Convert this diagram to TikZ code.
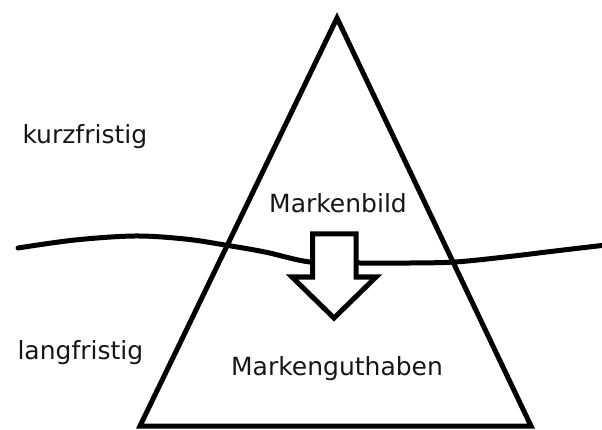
\documentclass[tikz,border=0pt]{standalone}
\usepackage{fontspec}
\setmainfont{DejaVu Sans}
\definecolor{txtgray}{HTML}{161616}
\begin{document}
\begin{tikzpicture}[x=1pt,y=-1pt,line width=5pt,
  lbl/.style={font=\fontsize{25}{30}\selectfont,text=txtgray,inner sep=0pt},
  heavy/.style={draw=black,line width=5pt}]
\useasboundingbox (0,0) rectangle (602,430);
% wavy boundary line
\draw[heavy,line cap=round] plot[smooth,tension=0.55] coordinates
  {(18,248) (75,240) (135,236) (185,239) (225,245) (265,252) (310,262)
   (360,263) (410,263) (455,262) (505,257) (555,251) (606,245)};
% triangle
\coordinate (apex) at (337,18);
\coordinate (bl) at (140,426);
\coordinate (br) at (531,426);
\draw[heavy,line join=miter] (apex) -- (bl) -- (br) -- cycle;
% block arrow
\draw[heavy,fill=white,line join=miter]
  (312.5,234) -- (356,234) -- (356,277) -- (376,277) -- (334,318)
  -- (292,277) -- (312.5,277) -- cycle;
% labels
\node[lbl,anchor=base west] (kurz) at (20,144) {kurzfristig};
\node[lbl,anchor=base west] (lang) at (15,359) {langfristig};
\node[lbl,anchor=base] (bild) at (338,213) {Markenbild};
\node[lbl,anchor=base] (gut) at (337,375) {Markenguthaben};
\end{tikzpicture}
\end{document}
